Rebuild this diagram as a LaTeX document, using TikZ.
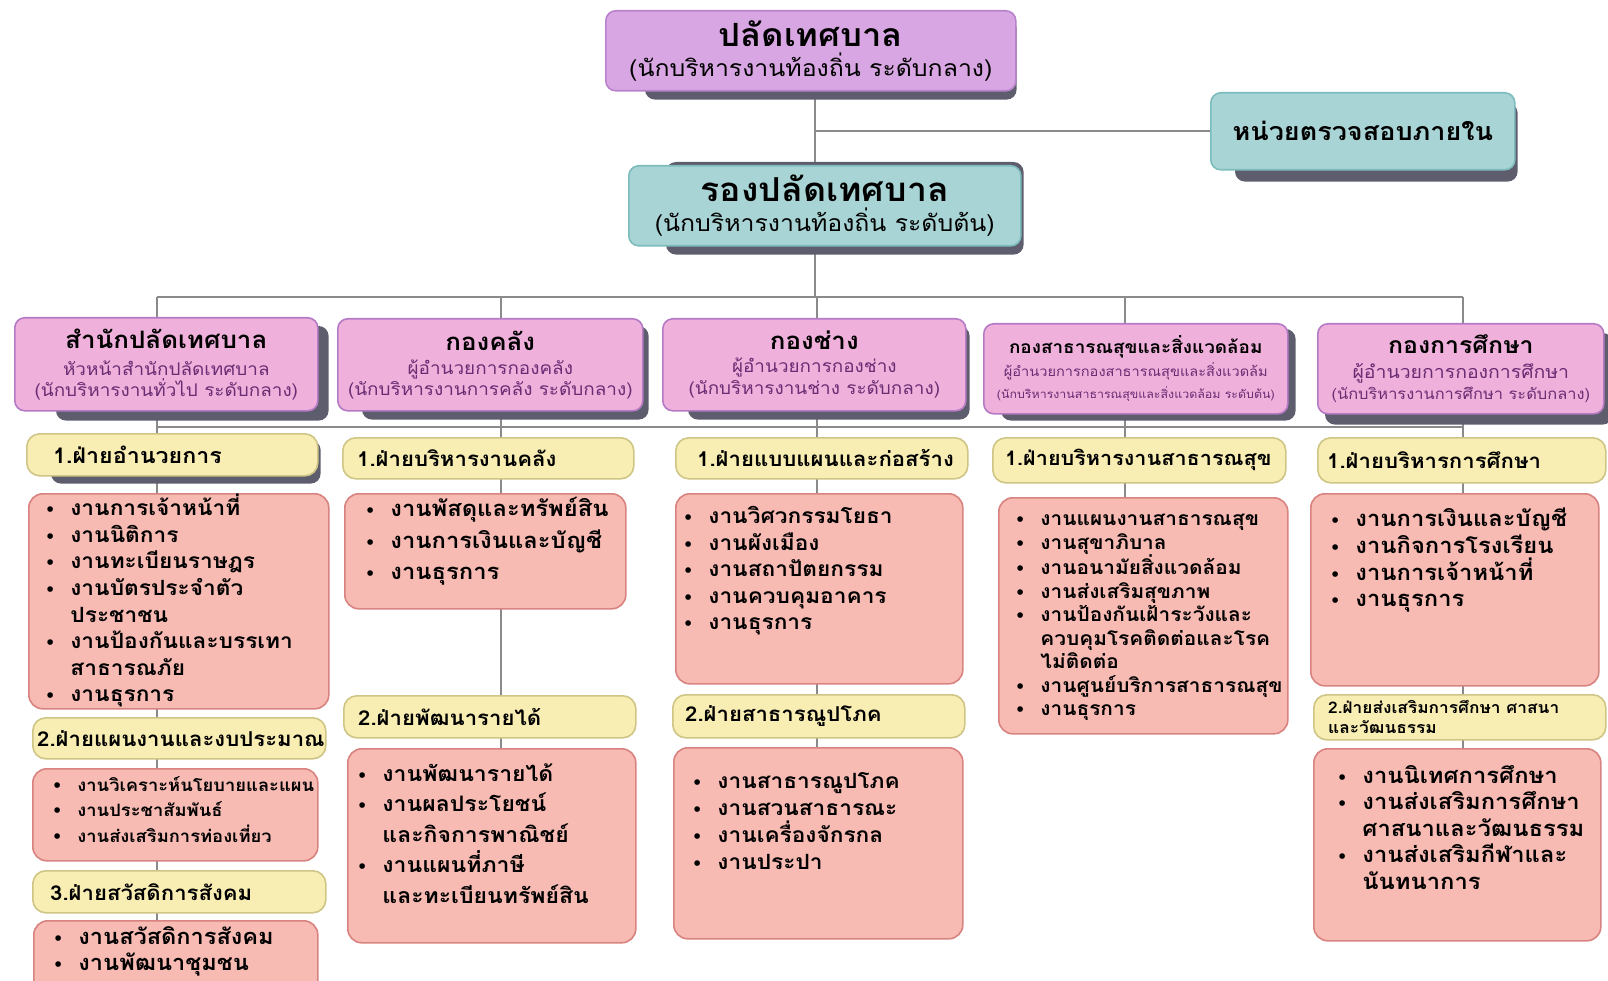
\documentclass[tikz,border=0pt]{standalone}
\usepackage{fontspec}
\newfontfamily\thaifont[Script=Thai,FakeStretch=1.08]{Loma}
\newfontfamily\dotfont{DejaVu Sans}
\usetikzlibrary{calc}

\definecolor{chieffill}{HTML}{D8A7E3}
\definecolor{chiefline}{HTML}{B982CC}
\definecolor{deptfill}{HTML}{EFB1DC}
\definecolor{deptline}{HTML}{B57AC4}
\definecolor{tealfill}{HTML}{A9D4D5}
\definecolor{tealline}{HTML}{7DBCBC}
\definecolor{secfill}{HTML}{F8EDB3}
\definecolor{secline}{HTML}{CFC585}
\definecolor{jobfill}{HTML}{F8BBB4}
\definecolor{jobline}{HTML}{D8837F}
\definecolor{shadegray}{HTML}{5E5D6D}
\definecolor{linkgray}{HTML}{8A8A8A}
\definecolor{subpurple}{HTML}{6A2C72}

\newcommand\bul{{\dotfont\fontsize{16}{16}\selectfont •}\hspace{15pt}}
\newcommand\indt{\hphantom{\bul}}
\newcommand\jobfont[2]{\thaifont\bfseries\fontsize{#1}{#2}\selectfont}

\pgfdeclarelayer{links}
\pgfdeclarelayer{shades}
\pgfsetlayers{links,shades,main}

\tikzset{
  box/.style={anchor=north west, rounded corners=10pt, line width=1.6pt,
    inner sep=0pt, align=center},
  chief/.style={box, draw=chiefline, fill=chieffill},
  dept/.style={box, draw=deptline, fill=deptfill},
  tealbox/.style={box, draw=tealline, fill=tealfill},
  sec/.style={box, draw=secline, fill=secfill, rounded corners=13pt},
  job/.style={box, draw=jobline, fill=jobfill, rounded corners=14pt},
  joblist/.style={anchor=north west, inner sep=0pt, align=left,
    font={\jobfont{21}{26.6}}},
  seclabel/.style={anchor=west, inner sep=0pt, align=left,
    font={\jobfont{20.5}{22}}},
  link/.style={draw=linkgray, line width=2pt},
}

\begin{document}
\begin{tikzpicture}[x=1pt,y=-1pt]
\path[use as bounding box, clip] (0,0) rectangle (1608,981);

% top of the tree
\node[chief, minimum width=410pt, minimum height=80pt,
  font={\thaifont\fontsize{23}{26}\selectfont}] (head) at (605,10)
  {{\bfseries\fontsize{32}{32}\selectfont ปลัดเทศบาล}\\[4pt]
   (นักบริหารงานท้องถิ่น ระดับกลาง)};
\node[tealbox, minimum width=304pt, minimum height=77pt,
  font={\jobfont{25}{30}}] (audit) at (1210,92) {หน่วยตรวจสอบภายใน};
\node[tealbox, minimum width=392pt, minimum height=80pt,
  font={\thaifont\fontsize{23}{26}\selectfont}] (deputy) at (628,165)
  {{\bfseries\fontsize{33}{33}\selectfont รองปลัดเทศบาล}\\[4pt]
   (นักบริหารงานท้องถิ่น ระดับต้น)};

% departments
\node[dept, minimum width=303pt, minimum height=93pt,
  font={\thaifont\fontsize{17.5}{21}\selectfont}] (d1) at (14,317)
  {{\bfseries\fontsize{24}{24}\selectfont สำนักปลัดเทศบาล}\\[6pt]
   \textcolor{subpurple}{หัวหน้าสำนักปลัดเทศบาล}\\
   \textcolor{subpurple}{(นักบริหารงานทั่วไป ระดับกลาง)}};
\node[dept, minimum width=305pt, minimum height=92pt,
  font={\thaifont\fontsize{17.5}{21}\selectfont}] (d2) at (337,318)
  {{\bfseries\fontsize{24}{24}\selectfont กองคลัง}\\[3pt]
   \textcolor{subpurple}{ผู้อำนวยการกองคลัง}\\
   \textcolor{subpurple}{(นักบริหารงานการคลัง ระดับกลาง)}};
\node[dept, minimum width=303pt, minimum height=92pt,
  font={\thaifont\fontsize{17.5}{22}\selectfont}] (d3) at (662,318)
  {{\bfseries\fontsize{24}{24}\selectfont กองช่าง}\\[1pt]
   \textcolor{subpurple}{ผู้อำนวยการกองช่าง}\\
   \textcolor{subpurple}{(นักบริหารงานช่าง ระดับกลาง)}};
\node[dept, minimum width=304pt, minimum height=90pt,
  font={\thaifont\fontsize{13.5}{22}\selectfont}] (d4) at (983,323)
  {{\bfseries\fontsize{17.5}{17.5}\selectfont กองสาธารณสุขและสิ่งแวดล้อม}\\[1pt]
   \textcolor{subpurple}{ผู้อำนวยการกองสาธารณสุขและสิ่งแวดล้ม}\\
   \textcolor{subpurple}{\fontsize{11.5}{22}\selectfont(นักบริหารงานสาธารณสุขและสิ่งแวดล้อม ระดับต้น)}};
\node[dept, minimum width=286pt, minimum height=90pt,
  font={\thaifont\fontsize{18}{21}\selectfont}] (d5) at (1317,323)
  {{\bfseries\fontsize{23}{23}\selectfont กองการศึกษา}\\[4pt]
   \textcolor{subpurple}{ผู้อำนวยการกองการศึกษา}\\
   \textcolor{subpurple}{\fontsize{15.2}{21}\selectfont(นักบริหารงานการศึกษา ระดับกลาง)}};

% sections and their jobs, column 1
\node[sec, minimum width=291pt, minimum height=42pt] (s11) at (26,433) {};
\node[seclabel, font={\jobfont{21.5}{22}}] (s11t) at ([xshift=27pt]s11.west) {1.ฝ่ายอำนวยการ};
\node[job, minimum width=300pt, minimum height=215pt] (j11) at (28,493) {};
\node[joblist] (j11t) at ([xshift=17pt,yshift=-1pt]j11.north west)
  {\bul งานการเจ้าหน้าที่\\ \bul งานนิติการ\\ \bul งานทะเบียนราษฎร\\
   \bul งานบัตรประจำตัว\\ \indt ประชาชน\\ \bul งานป้องกันและบรรเทา\\
   \indt สาธารณภัย\\ \bul งานธุรการ};
\node[sec, minimum width=293pt, minimum height=41pt] (s12) at (32,717) {};
\node[seclabel] (s12t) at ([xshift=5pt]s12.west) {2.ฝ่ายแผนงานและงบประมาณ};
\node[job, minimum width=285pt, minimum height=92pt] (j12) at (32,768) {};
\node[joblist, font={\jobfont{17}{25.5}}] (j12t) at ([xshift=20pt,yshift=-8pt]j12.north west)
  {\bul งานวิเคราะห์นโยบายและแผน\\ \bul งานประชาสัมพันธ์\\ \bul งานส่งเสริมการท่องเที่ยว};
\node[sec, minimum width=293pt, minimum height=42pt] (s13) at (32,870) {};
\node[seclabel] (s13t) at ([xshift=18pt]s13.west) {3.ฝ่ายสวัสดิการสังคม};
\node[job, minimum width=284pt, minimum height=80pt] (j13) at (33,920) {};
\node[joblist, font={\jobfont{21.8}{26.6}}] (j13t) at ([xshift=20pt,yshift=-6pt]j13.north west)
  {\bul งานสวัสดิการสังคม\\ \bul งานพัฒนาชุมชน};

% column 2
\node[sec, minimum width=291pt, minimum height=41pt] (s21) at (342,437) {};
\node[seclabel] (s21t) at ([xshift=15pt]s21.west) {1.ฝ่ายบริหารงานคลัง};
\node[job, minimum width=281pt, minimum height=115pt] (j21) at (344,493) {};
\node[joblist, font={\jobfont{22}{31.5}}] (j21t) at ([xshift=21pt,yshift=-4pt]j21.north west)
  {\bul งานพัสดุและทรัพย์สิน\\ \bul งานการเงินและบัญชี\\ \bul งานธุรการ};
\node[sec, minimum width=292pt, minimum height=42pt] (s22) at (343,695) {};
\node[seclabel] (s22t) at ([xshift=15pt]s22.west) {2.ฝ่ายพัฒนารายได้};
\node[job, minimum width=288pt, minimum height=194pt] (j22) at (347,748) {};
\node[joblist, font={\jobfont{21.3}{30.5}}] (j22t) at ([xshift=10pt,yshift=-15pt]j22.north west)
  {\bul งานพัฒนารายได้\\ \bul งานผลประโยชน์\\ \indt และกิจการพาณิชย์\\
   \bul งานแผนที่ภาษี\\ \indt และทะเบียนทรัพย์สิน};

% column 3
\node[sec, minimum width=292pt, minimum height=41pt] (s31) at (675,437) {};
\node[seclabel] (s31t) at ([xshift=22pt]s31.west) {1.ฝ่ายแบบแผนและก่อสร้าง};
\node[job, minimum width=287pt, minimum height=190pt] (j31) at (675,493) {};
\node[joblist, font={\jobfont{21}{26.6}}] (j31t) at ([xshift=8pt,yshift=-13pt]j31.north west)
  {\bul งานวิศวกรรมโยธา\\ \bul งานผังเมือง\\ \bul งานสถาปัตยกรรม\\
   \bul งานควบคุมอาคาร\\ \bul งานธุรการ};
\node[sec, minimum width=292pt, minimum height=43pt] (s32) at (672,694) {};
\node[seclabel] (s32t) at ([xshift=13pt]s32.west) {2.ฝ่ายสาธารณูปโภค};
\node[job, minimum width=289pt, minimum height=191pt] (j32) at (673,747) {};
\node[joblist, font={\jobfont{21}{27}}] (j32t) at ([xshift=19pt,yshift=-25pt]j32.north west)
  {\bul งานสาธารณูปโภค\\ \bul งานสวนสาธารณะ\\ \bul งานเครื่องจักรกล\\ \bul งานประปา};

% column 4
\node[sec, minimum width=293pt, minimum height=45pt] (s41) at (992,437) {};
\node[seclabel, font={\jobfont{20}{22}}] (s41t) at ([xshift=13pt]s41.west) {1.ฝ่ายบริหารงานสาธารณสุข};
\node[job, minimum width=289pt, minimum height=236pt] (j41) at (998,497) {};
\node[joblist, font={\jobfont{19.3}{23.5}}] (j41t) at ([xshift=17pt,yshift=-17pt]j41.north west)
  {\bul งานแผนงานสาธารณสุข\\ \bul งานสุขาภิบาล\\ \bul งานอนามัยสิ่งแวดล้อม\\
   \bul งานส่งเสริมสุขภาพ\\ \bul งานป้องกันเฝ้าระวังและ\\ \indt ควบคุมโรคติดต่อและโรค\\
   \indt ไม่ติดต่อ\\ \bul งานศูนย์บริการสาธารณสุข\\ \bul งานธุรการ};

% column 5
\node[sec, minimum width=288pt, minimum height=45pt] (s51) at (1317,437) {};
\node[seclabel] (s51t) at ([xshift=10pt]s51.west) {1.ฝ่ายบริหารการศึกษา};
\node[job, minimum width=288pt, minimum height=192pt] (j51) at (1310,493) {};
\node[joblist, font={\jobfont{22}{26.7}}] (j51t) at ([xshift=20pt,yshift=-15pt]j51.north west)
  {\bul งานการเงินและบัญชี\\ \bul งานกิจการโรงเรียน\\ \bul งานการเจ้าหน้าที่\\ \bul งานธุรการ};
\node[sec, minimum width=292pt, minimum height=45pt] (s52) at (1313,694) {};
\node[seclabel, font={\jobfont{16}{20}}] (s52t) at ([xshift=15pt]s52.west)
  {2.ฝ่ายส่งเสริมการศึกษา ศาสนา\\ และวัฒนธรรม};
\node[job, minimum width=287pt, minimum height=192pt] (j52) at (1313,748) {};
\node[joblist, font={\jobfont{22}{26.5}}] (j52t) at ([xshift=24pt,yshift=-17pt]j52.north west)
  {\bul งานนิเทศการศึกษา\\ \bul งานส่งเสริมการศึกษา\\ \indt ศาสนาและวัฒนธรรม\\
   \bul งานส่งเสริมกีฬาและ\\ \indt นันทนาการ};

% connectors
\coordinate (axis) at (815,0);
\coordinate (bus) at (0,297);
\coordinate (rail) at (0,427);
\foreach \k/\x in {1/157,2/501,3/817,4/1125,5/1463}
  \coordinate (c\k) at (\x,0);

\begin{pgfonlayer}{links}
\draw[link] (axis |- head.south) -- (axis |- bus);
\draw[link] (axis |- audit.west) -- (audit.west);
\draw[link] (c1 |- bus) -- (c5 |- bus);
\draw[link] (c1 |- rail) -- (c5 |- rail);
\foreach \k/\last in {1/j13,2/j22,3/j32,4/j41,5/j52}
  \draw[link] (c\k |- bus) -- (c\k |- \last.north);
\end{pgfonlayer}

% shadows: left inset / right offset / top shift / bottom shift
\begin{pgfonlayer}{shades}
\foreach \n/\l/\r/\t/\d in {head/40/0/8/8, audit/25/2/11/11, deputy/38/2/-3/8,
  d1/42/10/9/9, d2/25/5/8/8, d3/26/3/8/8, d4/18/7/6/6, d5/8/8/10/10, s11/25/2/7/7}
  \fill[shadegray, rounded corners=10pt]
    ([xshift=\l pt,yshift=-\t pt]\n.north west) rectangle ([xshift=\r pt,yshift=-\d pt]\n.south east);
\end{pgfonlayer}
\end{tikzpicture}
\end{document}
